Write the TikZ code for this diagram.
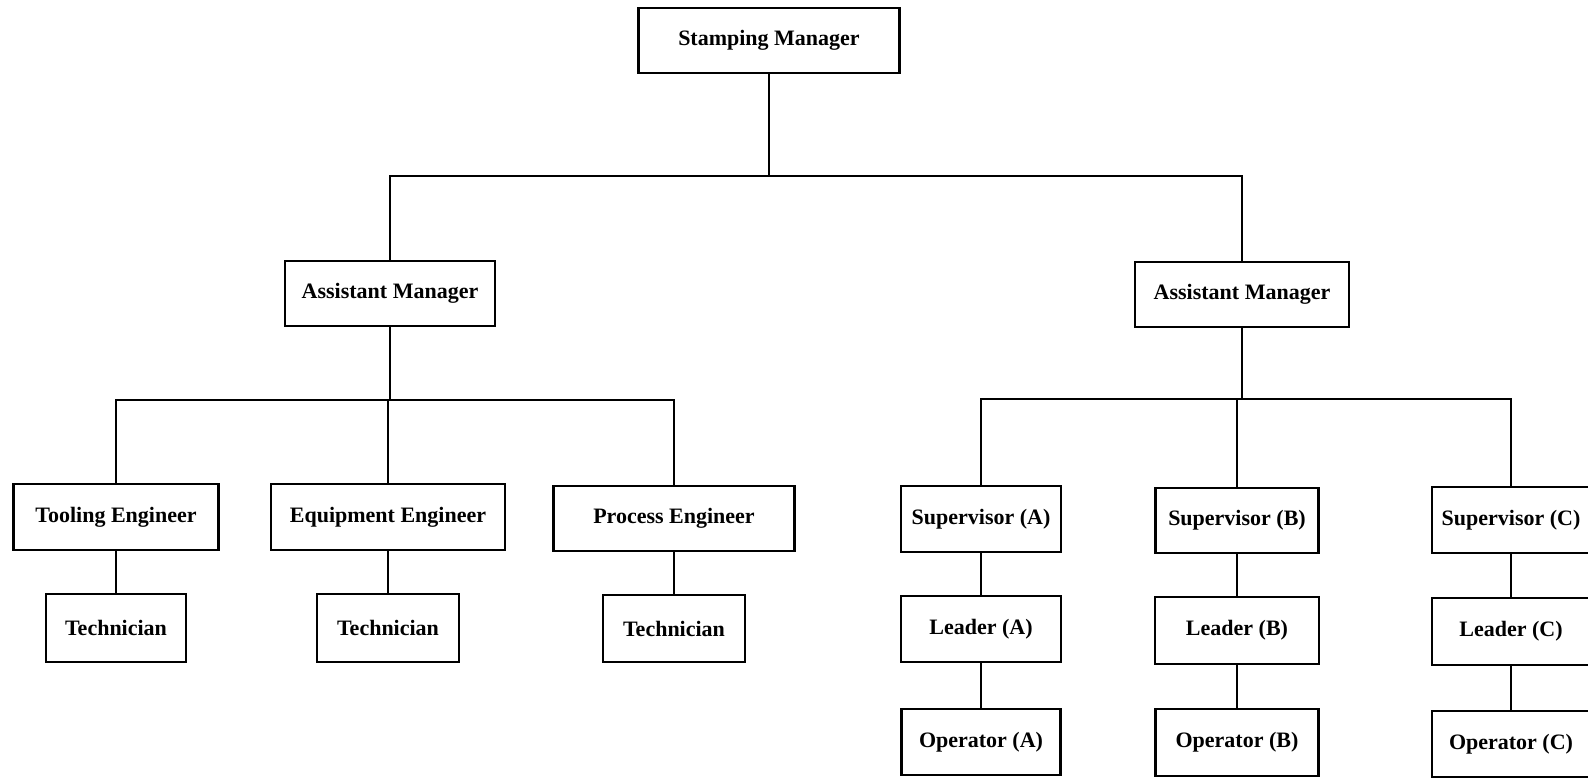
\documentclass[tikz,border=0pt]{standalone}
\usepackage{fontspec}
\setmainfont{Liberation Serif}
\begin{document}
\begin{tikzpicture}[x=1pt,y=-1pt,
  box/.style={draw=black, line width=2.8pt, rectangle, inner sep=0pt,
    font=\bfseries\fontsize{22}{26}\selectfont, text=black, fill=white},
  link/.style={draw=black, line width=1.2pt}]
\useasboundingbox (0,0) rectangle (1588,778);
\fill[white] (0,0) rectangle (1588,778);
% bar coordinates
\coordinate (b1) at (770,176);
\coordinate (b2) at (389,400);
\coordinate (b3) at (1239,399);
% nodes
\node[box, minimum width=261pt, minimum height=65pt] (sm) at (769,40.5) {Stamping Manager};
\node[box, minimum width=210pt, minimum height=65pt] (aml) at (390,293.5) {Assistant Manager};
\node[box, minimum width=214pt, minimum height=65pt] (amr) at (1242,294.5) {Assistant Manager};
\node[box, minimum width=205pt, minimum height=66pt] (te) at (116,517) {Tooling Engineer};
\node[box, minimum width=234pt, minimum height=66pt] (ee) at (388,517) {Equipment Engineer};
\node[box, minimum width=241pt, minimum height=65pt] (pe) at (674,518.5) {Process Engineer};
\node[box, minimum width=140pt, minimum height=68pt] (t1) at (116,628) {Technician};
\node[box, minimum width=142pt, minimum height=68pt] (t2) at (388,628) {Technician};
\node[box, minimum width=142pt, minimum height=67pt] (t3) at (674,628.5) {Technician};
\node[box, minimum width=160pt, minimum height=66pt] (sa) at (981,519) {Supervisor (A)};
\node[box, minimum width=160pt, minimum height=66pt] (la) at (981,629) {Leader (A)};
\node[box, minimum width=159pt, minimum height=66pt] (oa) at (981,742) {Operator (A)};
\node[box, minimum width=163pt, minimum height=65pt] (sb) at (1237,520.5) {Supervisor (B)};
\node[box, minimum width=164pt, minimum height=67pt] (lb) at (1237,630.5) {Leader (B)};
\node[box, minimum width=163pt, minimum height=67pt] (ob) at (1237,742.5) {Operator (B)};
\node[box, minimum width=158pt, minimum height=66pt] (sc) at (1511,520) {Supervisor (C)};
\node[box, minimum width=158pt, minimum height=67pt] (lc) at (1511,631.5) {Leader (C)};
\node[box, minimum width=158pt, minimum height=66pt] (oc) at (1511,744) {Operator (C)};
% connectors
\draw[link] (sm.south) -- (sm.south |- b1);
\draw[link] (aml.north) |- (amr.north |- b1) -- (amr.north);
\draw[link] (aml.south) -- (aml.south |- b2);
\draw[link] (te.north) |- (pe.north |- b2) -- (pe.north);
\draw[link] (ee.north) -- (ee.north |- b2);
\draw[link] (te.south) -- (t1.north);
\draw[link] (ee.south) -- (t2.north);
\draw[link] (pe.south) -- (t3.north);
\draw[link] (amr.south) -- (amr.south |- b3);
\draw[link] (sa.north) |- (sc.north |- b3) -- (sc.north);
\draw[link] (sb.north) -- (sb.north |- b3);
\draw[link] (sa.south) -- (la.north);
\draw[link] (la.south) -- (oa.north);
\draw[link] (sb.south) -- (lb.north);
\draw[link] (lb.south) -- (ob.north);
\draw[link] (sc.south) -- (lc.north);
\draw[link] (lc.south) -- (oc.north);
\end{tikzpicture}
\end{document}
